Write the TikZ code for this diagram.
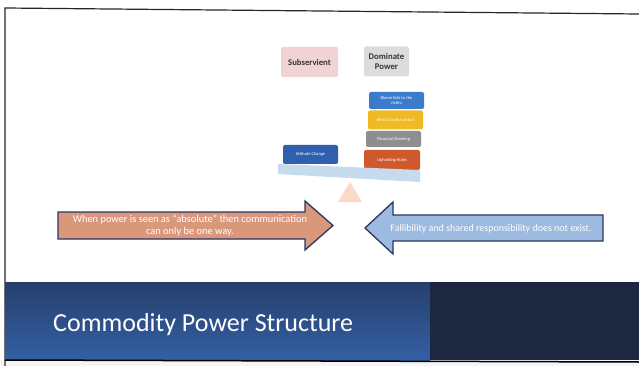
\documentclass[tikz,border=0pt]{standalone}
\usepackage{fontspec}
\setmainfont{Carlito}
\definecolor{pinkbox}{HTML}{F2D3D4}
\definecolor{graybox}{HTML}{DCDCDC}
\definecolor{bblue}{HTML}{3B7BCB}
\definecolor{byellow}{HTML}{F0BA22}
\definecolor{bgray}{HTML}{8E8E8E}
\definecolor{borange}{HTML}{D0592B}
\definecolor{bdblue}{HTML}{2F5FAD}
\definecolor{beam}{HTML}{C6DBEE}
\definecolor{fulcrum}{HTML}{FBD9C6}
\definecolor{salmon}{HTML}{D9977B}
\definecolor{lblue}{HTML}{9DBAE0}
\definecolor{navy}{HTML}{2A3560}
\definecolor{bandblue}{HTML}{3460A4}
\definecolor{bandtop}{HTML}{253F6C}
\definecolor{banddark}{HTML}{1E2740}
\tikzset{
  topbox/.style={rounded corners=2pt, font=\bfseries\fontsize{8.7}{10}\selectfont, text=black!80, align=center, inner sep=0pt},
  block/.style={rounded corners=2pt, font=\fontsize{4.5}{5}\selectfont, text=white, align=center, inner sep=1pt},
  arrowtext/.style={text=white, align=center, inner sep=0pt},
}
\begin{document}
\begin{tikzpicture}[x=1pt,y=-1pt]
\useasboundingbox (0,0) rectangle (639,366);
\fill[white] (0,0) rectangle (639,366);
% slide frame
\fill[gray!8] (0,360) rectangle (639,366);
\draw[black!85, line width=1.2pt] (5,366) -- (5,8) -- (639,14);
% bottom band
\shade[top color=bandtop, bottom color=bandblue] (5,282) rectangle (430,360);
\fill[banddark] (430,282) rectangle (639,360);
\draw[black, line width=1.5pt] (5,360) -- (639,362);
\node[anchor=west, text=white, font=\fontsize{26}{29}\selectfont, inner sep=0pt] (title) at (53,325) {Commodity Power Structure};
% top boxes
\node[topbox, fill=pinkbox, minimum width=57pt, minimum height=30pt] (sub) at (309.5,62) {Subservient};
\node[topbox, fill=graybox, minimum width=45pt, minimum height=30pt] (dom) at (386.5,61.5) {Dominate\\Power};
% stacked blocks
\node[block, fill=bblue, minimum width=55pt, minimum height=17pt] (b1) at (396.5,100.5) {Blame falls to the\\victim};
\node[block, fill=byellow, minimum width=55pt, minimum height=19pt] (b2) at (395.5,120) {Strict Goods Control};
\node[block, fill=bgray, minimum width=55pt, minimum height=16pt] (b3) at (393.5,139) {Financial Shaming};
\node[block, fill=borange, minimum width=56pt, minimum height=20pt] (b4) at (392,160) {Upholding Rules};
\node[block, fill=bdblue, minimum width=55pt, minimum height=19pt] (b5) at (310.5,154.5) {Attitude Change};
% beam and fulcrum
\fill[beam] (278,164) -- (420,170) -- (420,182) -- (278,174) -- cycle;
\fill[fulcrum] (350,182) -- (362,202) -- (338,202) -- cycle;
% left arrow
\filldraw[fill=salmon, draw=navy, line width=1.3pt, line join=miter]
  (58,212) -- (305,212) -- (305,201) -- (333,225.5) -- (305,250) -- (305,239) -- (58,239) -- cycle;
\node[arrowtext, font=\fontsize{10.4}{12}\selectfont] (lt) at (190,226) {When power is seen as “absolute” then communication\\can only be one way.};
% right arrow
\filldraw[fill=lblue, draw=navy, line width=1.3pt, line join=miter]
  (603,215) -- (393,215) -- (393,202) -- (365,228) -- (393,254) -- (393,241) -- (603,241) -- cycle;
\node[arrowtext, font=\fontsize{10}{11}\selectfont] (rt) at (491,228.5) {Fallibility and shared responsibility does not exist.};
\end{tikzpicture}
\end{document}
